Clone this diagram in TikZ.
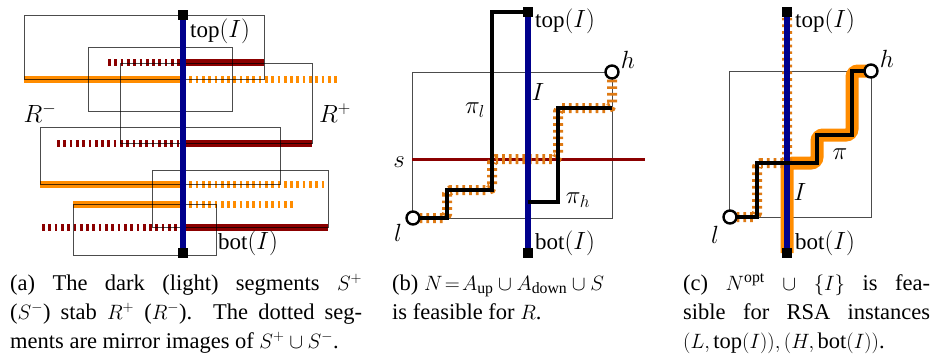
\documentclass[tikz,border=0pt]{standalone}
\usepackage{fontspec}
\setmainfont{Liberation Serif}
\definecolor{navyI}{RGB}{0,0,140}
\definecolor{dred}{RGB}{139,0,0}
\definecolor{lorange}{RGB}{255,140,0}
\definecolor{dorange}{RGB}{222,122,20}
\begin{document}
\begin{tikzpicture}[x=1pt,y=-1pt,
  box/.style={draw=black,draw opacity=0.7,line width=1pt},
  Iline/.style={line width=5.5pt,draw=navyI},
  sq/.style={fill=black,minimum size=10pt,inner sep=0pt},
  darkseg/.style={line width=7pt,draw=dred},
  lightseg/.style={line width=7pt,draw=lorange},
  darkdot/.style={line width=7pt,draw=dred,dash pattern=on 2.7pt off 3.6pt},
  lightdot/.style={line width=7pt,draw=lorange,dash pattern=on 2.7pt off 3.6pt},
  lab/.style={inner sep=0pt,font=\fontsize{23}{26}\selectfont},
  captxt/.style={inner sep=0pt,anchor=base west,text height=14pt,text depth=4pt,font=\fontsize{22.5}{28}\selectfont},
  pth/.style={line width=3.2pt,draw=black},
  tickline/.style={line width=10pt,draw=dorange,dash pattern=on 2.7pt off 4pt,rounded corners=4pt},
  glow/.style={line width=13pt,draw=lorange,rounded corners=6pt},
  endpt/.style={circle,draw=black,fill=white,line width=2.4pt,minimum size=13pt,inner sep=0pt},
]
\useasboundingbox (0,0) rectangle (935,360);

% ---------- panel (a) ----------
\draw[lightseg] (24,79) -- (183,79);
\draw[lightdot] (183,79) -- (340,79);
\draw[darkseg] (183,62) -- (264,62);
\draw[darkdot] (108,62) -- (183,62);
\draw[darkseg] (183,143) -- (312,143);
\draw[darkdot] (57,143) -- (183,143);
\draw[lightseg] (40,184) -- (183,184);
\draw[lightdot] (183,184) -- (327,184);
\draw[lightseg] (73,204) -- (183,204);
\draw[lightdot] (183,204) -- (293,204);
\draw[darkseg] (183,227) -- (328,227);
\draw[darkdot] (42,227) -- (183,227);

\draw[box] (24,15) rectangle (264,79);
\draw[box] (88,47) rectangle (232,111);
\draw[box] (120,63) rectangle (312,143);
\draw[box] (40,127) rectangle (280,184);
\draw[box] (152,170) rectangle (328,227);
\draw[box] (73,204) rectangle (216,255);

\node[sq] (at) at (183,15) {};
\node[sq] (ab) at (183,253) {};
\draw[Iline] (at) -- (ab);
\node[lab,anchor=west] (atl) at (190,31) {$\mathrm{top}(I)$};
\node[lab,anchor=west] (abl) at (218,243) {$\mathrm{bot}(I)$};
\node[lab] (rm) at (40,113) {$R^-$};
\node[lab] (rp) at (335,113) {$R^+$};

% ---------- panel (b) ----------
\draw[box] (412,72) rectangle (612,218);
\draw[line width=3pt,draw=dred] (412,159) -- (645,159);
\node[lab] (sl) at (399,162) {$s$};
\draw[tickline] (413,218) -- (447,218) -- (447,190) -- (492,190) -- (492,159) -- (558,159) -- (558,108) -- (612,108) -- (612,72);
\node[sq] (bt) at (528,12) {};
\node[sq] (bb) at (528,253) {};
\draw[Iline] (bt) -- (bb);
\coordinate (bl) at (413,218);
\coordinate (bh) at (612,72);
\draw[pth] (bl) -- (447,218) -- (447,190) -- (492,190) -- (492,12) -- (bt.west);
\draw[pth] (528,202) -- (558,202) -- (558,108) -- (612,108);
\node[endpt] (blc) at (bl) {};
\node[endpt] (bhc) at (bh) {};
\node[lab,anchor=west] (btl) at (535,21) {$\mathrm{top}(I)$};
\node[lab,anchor=west] (bbl) at (535,243) {$\mathrm{bot}(I)$};
\node[lab] (pil) at (475,110) {$\pi_l$};
\node[lab] (bi) at (538,92) {$I$};
\node[lab] (pih) at (578,200) {$\pi_h$};
\node[lab] (hl) at (628,60) {$h$};
\node[lab] (ll) at (398,233) {$l$};

% ---------- panel (c) ----------
\draw[box] (729,71) rectangle (871,217);
\draw[glow] (787,253) -- (787,163) -- (817,163) -- (817,135) -- (852,135) -- (852,71) -- (871,71);
\draw[tickline] (730,217) -- (757,217) -- (757,163) -- (787,163) -- (787,12);
\node[sq] (ct) at (787,12) {};
\node[sq] (cb) at (787,253) {};
\draw[Iline] (ct) -- (cb);
\coordinate (cl) at (730,217);
\coordinate (ch) at (871,71);
\draw[pth] (cl) -- (757,217) -- (757,163) -- (817,163) -- (817,135) -- (852,135) -- (852,71) -- (ch);
\node[endpt] (clc) at (cl) {};
\node[endpt] (chc) at (ch) {};
\node[lab,anchor=west] (ctl) at (795,21) {$\mathrm{top}(I)$};
\node[lab,anchor=west] (cbl) at (795,243) {$\mathrm{bot}(I)$};
\node[lab] (cpi) at (840,154) {$\pi$};
\node[lab] (ci) at (800,192) {$I$};
\node[lab] (chl) at (887,59) {$h$};
\node[lab] (cll) at (715,235) {$l$};

% ---------- captions ----------
\node[captxt] (a1) at (10,290) {\makebox[352pt][s]{(a) The dark (light) segments $S^+$}};
\node[captxt] (a2) at (10,319) {\makebox[352pt][s]{($S^-$) stab $R^+$ ($R^-$). The dotted seg-}};
\node[captxt] (a3) at (10,348) {ments are mirror images of $S^+\cup S^-$.};
\node[captxt] (b1) at (392,290) {(b) $N\!=\!A_{\mathrm{up}}\cup A_{\mathrm{down}}\cup S$};
\node[captxt] (b2) at (392,319) {is feasible for $R$.};
\node[captxt] (c1) at (683,290) {\makebox[247pt][s]{(c) $N^{\mathrm{opt}}$ $\cup$ $\{I\}$ is fea-}};
\node[captxt] (c2) at (683,319) {\makebox[247pt][s]{sible for RSA instances}};
\node[captxt] (c3) at (683,348) {$(L,\mathrm{top}(I)),(H,\mathrm{bot}(I))$.};
\end{tikzpicture}
\end{document}
